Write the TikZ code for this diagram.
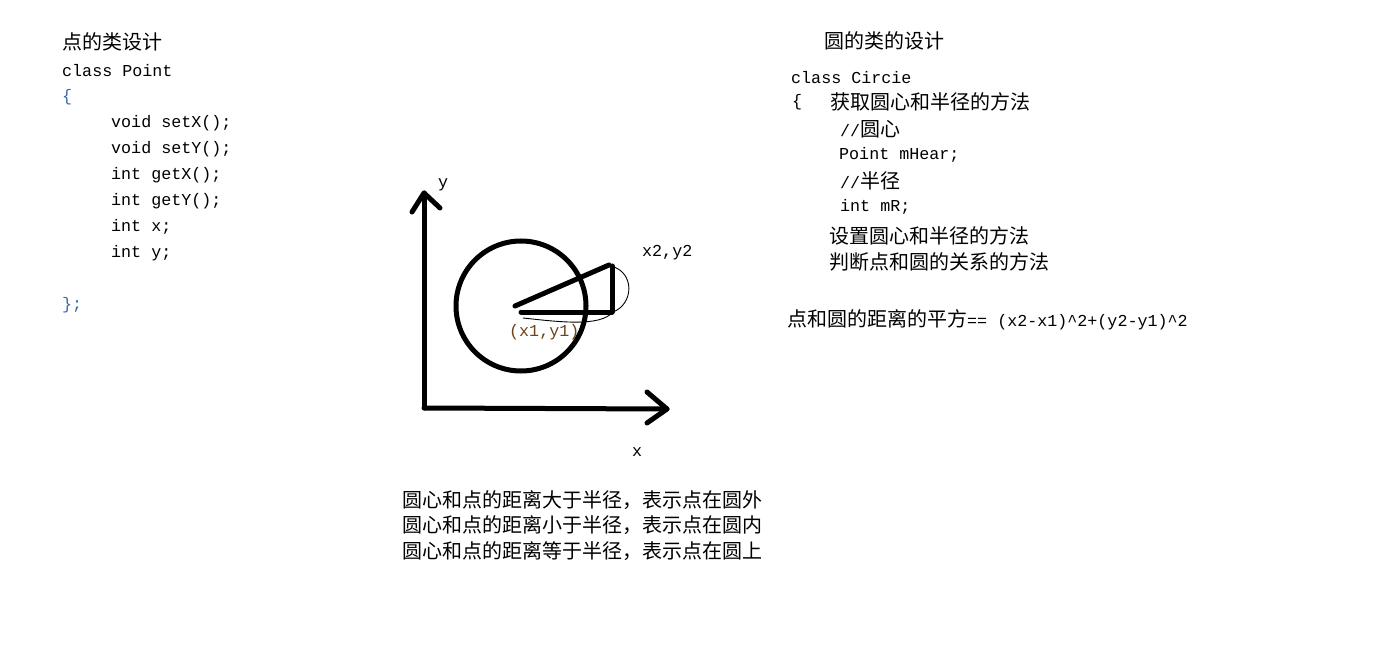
\documentclass[tikz,border=0pt]{standalone}
\usepackage{fontspec}
\setmainfont{Liberation Serif}
\newfontfamily\cjk{Noto Sans CJK SC}
\newfontfamily\mono{Liberation Mono}
\newcommand\zh[1]{{\cjk\fontsize{20}{20}\selectfont #1}}
\definecolor{bracecol}{HTML}{3A6AA8}
\definecolor{labcol}{HTML}{6B4418}
\tikzset{
  cn/.style={anchor=west,inner sep=0pt,font=\cjk\fontsize{20}{20}\selectfont},
  code/.style={anchor=west,inner sep=0pt,font=\mono\fontsize{16.7}{16.7}\selectfont},
  heavy/.style={line width=5pt,line cap=round,line join=round},
  thin/.style={line width=0.9pt}
}
\begin{document}
\begin{tikzpicture}[x=1pt,y=-1pt]
\useasboundingbox (0,0) rectangle (1385,663);
\fill[white] (0,0) rectangle (1385,663);
% left column
\node[cn] (t1) at (62,42) {点的类设计};
\node[code] (l1) at (62,71) {class Point};
\node[code,text=bracecol] (l2) at (62,97) {\{};
\node[code] (l3) at (111,123) {void setX();};
\node[code] (l4) at (111,149) {void setY();};
\node[code] (l5) at (111,175) {int getX();};
\node[code] (l6) at (111,201) {int getY();};
\node[code] (l7) at (111,227) {int x;};
\node[code] (l8) at (111,253) {int y;};
\node[code,text=bracecol] (l9) at (62,305) {\};};
% right column
\node[cn] (t2) at (824,41) {圆的类的设计};
\node[code] (r1) at (791,78) {class Circie};
\node[code] (r2) at (792,102) {\{};
\node[cn] (r3) at (830,102) {获取圆心和半径的方法};
\node[code] (r4) at (840,129) {//\zh{圆心}};
\node[code] (r5) at (839,155) {Point mHear;};
\node[code] (r6) at (840,181) {//\zh{半径}};
\node[code] (r7) at (840,207) {int mR;};
\node[cn] (r8) at (829,236) {设置圆心和半径的方法};
\node[cn] (r9) at (829,262) {判断点和圆的关系的方法};
\node[code] (r10) at (787,320) {\zh{点和圆的距离的平方}== (x2-x1)\textasciicircum2+(y2-y1)\textasciicircum2};
% bottom text
\node[cn] (b1) at (402,500) {圆心和点的距离大于半径，表示点在圆外};
\node[cn] (b2) at (402,525) {圆心和点的距离小于半径，表示点在圆内};
\node[cn] (b3) at (402,551) {圆心和点的距离等于半径，表示点在圆上};
% axes
\coordinate (O) at (424,408);
\coordinate (ytip) at (424,193);
\coordinate (ya) at (412,212);
\coordinate (yb) at (440,208);
\coordinate (xtip) at (667,409);
\coordinate (xa) at (647,392);
\coordinate (xb) at (647,423);
\draw[heavy] (O) -- (ytip);
\draw[heavy] (ya) -- (ytip) -- (yb);
\draw[heavy] (O) -- (xtip);
\draw[heavy] (xa) -- (xtip) -- (xb);
\node[code] (ylab) at (438,185) {y};
\node[code] (xlab) at (632,452) {x};
% circle
\node[circle,draw,line width=5pt,minimum size=130pt,inner sep=0pt] (circ) at (521,306) {};
% triangle
\coordinate (P1) at (515,306);
\coordinate (P2) at (609,265);
\coordinate (P2b) at (612,266);
\coordinate (P3) at (612,312);
\coordinate (P4) at (521,312);
\draw[heavy] (P1) -- (P2);
\draw[heavy] (P2b) -- (P3);
\draw[heavy] (P4) -- (P3);
% thin hand-drawn curves
\coordinate (c1) at (611,266);
\coordinate (c2) at (613,312);
\coordinate (c3) at (523,318);
\draw[thin] (c1) .. controls (635,272) and (634,304) .. (c2);
\draw[thin] (c2) .. controls (600,327) and (560,322) .. (c3);
% labels
\node[code] (lab2) at (642,253) {x2,y2};
\node[code,text=labcol] (lab1) at (509,332) {(x1,y1)};
\end{tikzpicture}
\end{document}
